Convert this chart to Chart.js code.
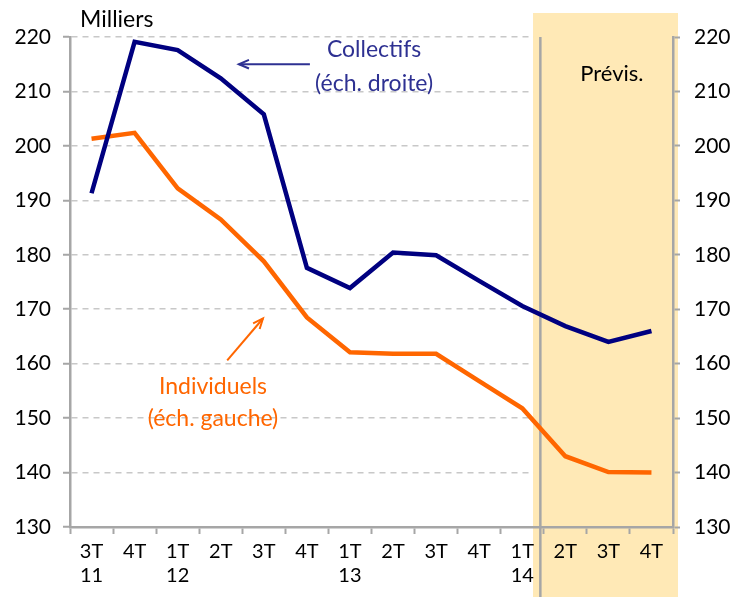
<!DOCTYPE html>
<html>
<head>
<meta charset="utf-8">
<script src="https://cdn.jsdelivr.net/npm/chart.js@4.4.1/dist/chart.umd.min.js"></script>
<style>
  html, body { margin: 0; padding: 0; background: #fff; }
</style>
</head>
<body>
<canvas id="chart" width="733" height="597"></canvas>
<script>
// data
var quarters = [['3T', '11'], ['4T', ''], ['1T', '12'], ['2T', ''], ['3T', ''], ['4T', ''],
                ['1T', '13'], ['2T', ''], ['3T', ''], ['4T', ''], ['1T', '14'], ['2T', ''], ['3T', ''], ['4T', '']];
var collectifs = [191.3, 219.1, 217.6, 212.4, 205.8, 177.6, 173.9, 180.4, 179.9, 175.2, 170.6, 166.9, 164.0, 166.0];
var individuels = [201.3, 202.4, 192.2, 186.5, 178.8, 168.5, 162.1, 161.8, 161.8, 156.8, 151.8, 143.0, 140.1, 140.0];
var yMin = 130, yMax = 220, yStep = 10;
var forecastFrom = 11; // first forecast quarter (2T 14)

var FONT = 'Lato, "Open Sans", sans-serif';
var BLUE = '#000080';
var ORANGE = '#FF6600';
var AXIS = '#A6A6A6';

// shaded forecast zone + separator line
var forecastZone = {
  id: 'forecastZone',
  beforeDatasetsDraw: function (chart) {
    var ctx = chart.ctx, x = chart.scales.x, a = chart.chartArea;
    var step = x.getPixelForValue(1) - x.getPixelForValue(0);
    var left = x.getPixelForValue(forecastFrom - 1) + step * 0.25;
    var right = a.right + 5;
    ctx.save();
    ctx.fillStyle = '#FFE9B6';
    ctx.fillRect(left, 13, right - left, chart.height - 13);
    var sep = x.getPixelForValue(forecastFrom - 1) + step * 0.42;
    ctx.strokeStyle = AXIS;
    ctx.lineWidth = 2.5;
    ctx.beginPath();
    ctx.moveTo(sep, a.top);
    ctx.lineTo(sep, chart.height);
    ctx.stroke();
    ctx.restore();
  }
};

function arrow(ctx, x1, y1, x2, y2, color) {
  var ang = Math.atan2(y2 - y1, x2 - x1);
  ctx.strokeStyle = color;
  ctx.lineWidth = 2;
  ctx.beginPath();
  ctx.moveTo(x1, y1);
  ctx.lineTo(x2, y2);
  ctx.stroke();
  ctx.beginPath();
  ctx.moveTo(x2 - 11 * Math.cos(ang - 0.4), y2 - 11 * Math.sin(ang - 0.4));
  ctx.lineTo(x2, y2);
  ctx.lineTo(x2 - 11 * Math.cos(ang + 0.4), y2 - 11 * Math.sin(ang + 0.4));
  ctx.stroke();
}

var notes = {
  id: 'notes',
  afterDraw: function (chart) {
    var ctx = chart.ctx, x = chart.scales.x, y = chart.scales.y;
    ctx.save();
    ctx.textAlign = 'left';
    ctx.textBaseline = 'middle';
    ctx.fillStyle = '#000';
    ctx.font = '23px ' + FONT;
    ctx.fillText('Milliers', 80, 20);

    ctx.textAlign = 'center';
    ctx.font = '22px ' + FONT;
    ctx.fillText('Prévis.', x.getPixelForValue(12.08), y.getPixelForValue(213.3));

    ctx.font = '23px ' + FONT;
    ctx.fillStyle = '#2E3192';
    ctx.fillText('Collectifs', x.getPixelForValue(6.56), y.getPixelForValue(217.6));
    ctx.fillText('(éch. droite)', x.getPixelForValue(6.56), y.getPixelForValue(211.5));
    arrow(ctx, x.getPixelForValue(5.07), y.getPixelForValue(215), x.getPixelForValue(3.42), y.getPixelForValue(215), '#2E3192');

    ctx.fillStyle = ORANGE;
    ctx.fillText('Individuels', x.getPixelForValue(2.82), y.getPixelForValue(155.8));
    ctx.fillText('(éch. gauche)', x.getPixelForValue(2.82), y.getPixelForValue(149.9));
    arrow(ctx, x.getPixelForValue(3.15), y.getPixelForValue(160.6), x.getPixelForValue(3.98), y.getPixelForValue(168.3), ORANGE);
    ctx.restore();
  }
};

function yTicks(scale) {
  scale.ticks = [];
  for (var v = yMin; v <= yMax; v += yStep) scale.ticks.push({ value: v });
}

new Chart(document.getElementById('chart'), {
  type: 'line',
  data: {
    labels: quarters,
    datasets: [{
      label: 'Collectifs',
      data: collectifs,
      yAxisID: 'y1',
      borderColor: BLUE,
      borderWidth: 4.5,
      pointRadius: 0,
      tension: 0
    }, {
      label: 'Individuels',
      data: individuels,
      yAxisID: 'y',
      borderColor: ORANGE,
      borderWidth: 4.5,
      pointRadius: 0,
      tension: 0
    }]
  },
  options: {
    responsive: false,
    animation: false,
    layout: { padding: { top: 37, left: 0, right: 0, bottom: 0 } },
    plugins: { legend: { display: false }, tooltip: { enabled: false } },
    scales: {
      x: {
        offset: true,
        grid: { z: 1, offset: true, drawOnChartArea: false, color: AXIS, tickLength: 7, tickWidth: 2 },
        border: { z: 1, color: AXIS, width: 2.5 },
        ticks: { z: 1, color: '#000', font: { family: FONT, size: 20 }, padding: 6, maxRotation: 0, autoSkip: false },
        afterFit: function (s) { s.height = 70; }
      },
      y: {
        position: 'left',
        min: yMin, max: yMax,
        afterBuildTicks: yTicks,
        grid: { color: '#C8C8C8', lineWidth: 1.5, tickLength: 7, tickColor: AXIS, tickWidth: 2, tickBorderDash: [] },
        border: { color: AXIS, width: 2.5, dash: [6, 5] },
        ticks: { color: '#000', font: { family: FONT, size: 21 }, padding: 12 },
        afterFit: function (s) { s.width = 70; }
      },
      y1: {
        position: 'right',
        min: yMin, max: yMax,
        afterBuildTicks: yTicks,
        grid: { z: 1, drawOnChartArea: false, color: AXIS, tickLength: 7, tickWidth: 2 },
        border: { z: 1, color: AXIS, width: 2.5 },
        ticks: { z: 1, color: '#000', font: { family: FONT, size: 21 }, padding: 14 },
        afterFit: function (s) { s.width = 60; }
      }
    }
  },
  plugins: [forecastZone, notes]
});
</script>
</body>
</html>
